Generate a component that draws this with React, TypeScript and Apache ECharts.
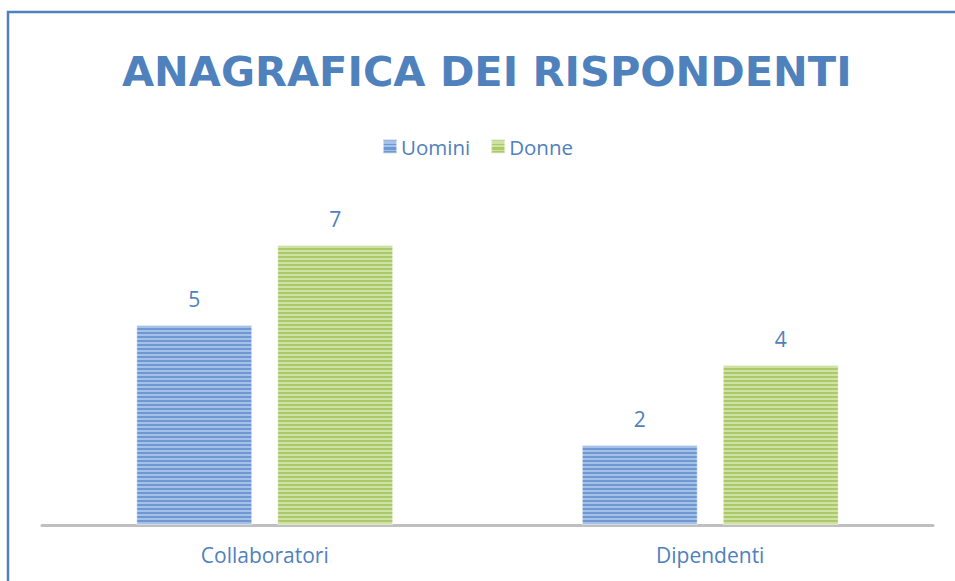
import React, { useEffect, useRef } from "react";
import * as echarts from "echarts";

const categories = ["Collaboratori", "Dipendenti"];
const seriesNames = ["Uomini", "Donne"];
const uominiValues = [5, 2];
const donneValues = [7, 4];

function stripes(dark: string, light: string) {
  const stops: { offset: number; color: string }[] = [];
  const H = 600;
  const p = 4;
  for (let y = 0; y < H; y += p) {
    const a = y / H;
    const b = (y + p / 2) / H;
    const c = (y + p) / H;
    stops.push({ offset: a, color: dark });
    stops.push({ offset: b, color: dark });
    stops.push({ offset: b, color: light });
    stops.push({ offset: Math.min(c, 1), color: light });
  }
  return {
    type: "linear",
    x: 0,
    y: 0,
    x2: 0,
    y2: H,
    global: true,
    colorStops: stops,
  };
}

export default function App() {
  const ref = useRef<HTMLDivElement>(null);
  useEffect(() => {
    if (!ref.current) return;
    const chart = echarts.init(ref.current, undefined, { renderer: "svg" });
    const font = "'Open Sans', 'Noto Sans', sans-serif";
    const textColor = "#4f81bd";
    chart.setOption({
      animation: false,
      backgroundColor: "#ffffff",
      title: {
        text: "ANAGRAFICA DEI RISPONDENTI",
        left: 117,
        top: 45,
        textStyle: {
          fontFamily: "'DejaVu Sans', sans-serif",
          fontSize: 41.5,
          fontWeight: "bold",
          color: textColor,
        },
      },
      legend: {
        data: seriesNames,
        top: 131,
        left: "center",
        itemWidth: 14,
        itemHeight: 14,
        itemGap: 20,
        icon: "rect",
        textStyle: { fontFamily: font, fontSize: 20.5, color: textColor, padding: [0, 0, 0, -1] },
      },
      graphic: [
        {
          type: "rect",
          shape: { x: 8, y: 12, width: 1000, height: 700 },
          style: { fill: "none", stroke: "#4f81bd", lineWidth: 2.5 },
          silent: true,
        },
      ],
      grid: { left: 42, right: 22, top: 205, bottom: 56 },
      xAxis: {
        type: "category",
        data: categories,
        axisLine: { lineStyle: { color: "#bfbfbf", width: 3 } },
        axisTick: { show: false },
        axisLabel: {
          fontFamily: font,
          fontSize: 21,
          color: textColor,
          margin: 19,
        },
      },
      yAxis: {
        type: "value",
        min: 0,
        max: 8,
        show: false,
        splitLine: { show: false },
      },
      series: [
        {
          name: seriesNames[0],
          type: "bar",
          data: uominiValues,
          barWidth: 116,
          barGap: "21.5%",
          itemStyle: {
            color: stripes("#6f97d2", "#a6c1e8"),
            borderColor: "rgba(255,255,255,0.55)",
            borderWidth: 1,
          },
          label: {
            show: true,
            position: "top",
            distance: 16,
            fontFamily: font,
            fontSize: 21,
            color: textColor,
          },
        },
        {
          name: seriesNames[1],
          type: "bar",
          data: donneValues,
          barWidth: 116,
          barGap: "21.5%",
          itemStyle: {
            color: stripes("#a9c96a", "#cfe2a4"),
            borderColor: "rgba(255,255,255,0.55)",
            borderWidth: 1,
          },
          label: {
            show: true,
            position: "top",
            distance: 16,
            fontFamily: font,
            fontSize: 21,
            color: textColor,
          },
        },
      ],
    });
    return () => chart.dispose();
  }, []);
  return (
    <div
      ref={ref}
      style={{ position: "fixed", left: 0, top: 0, width: 955, height: 581 }}
    />
  );
}
